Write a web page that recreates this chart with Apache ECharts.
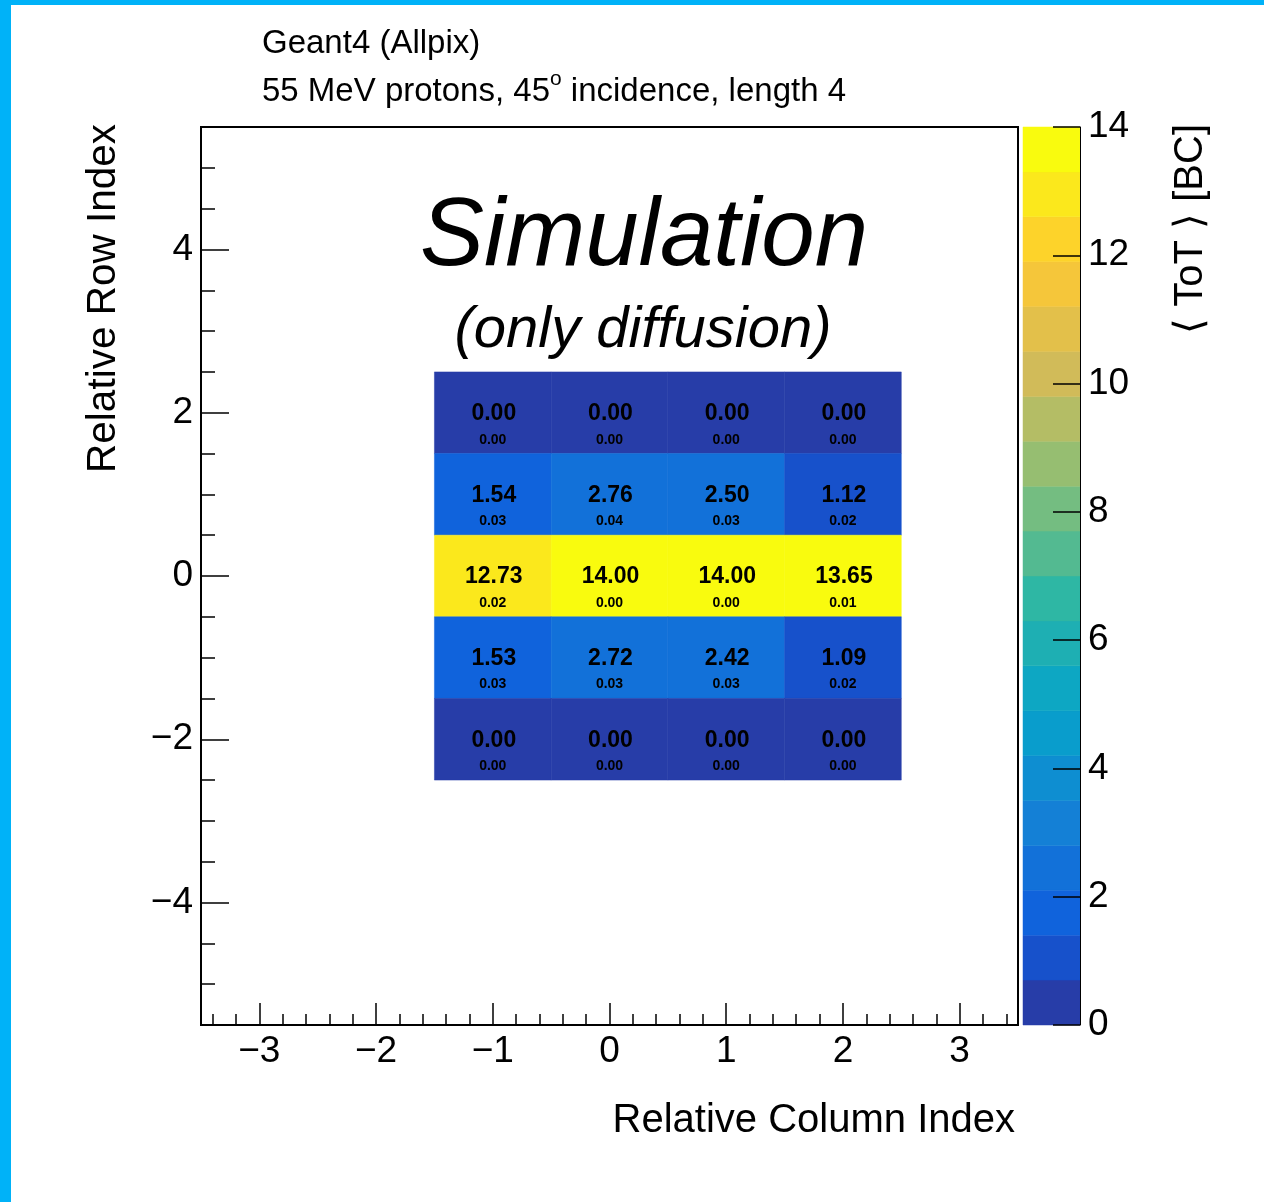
<!DOCTYPE html>
<html>
<head>
<meta charset="utf-8">
<script src="https://cdn.jsdelivr.net/npm/echarts@6/dist/echarts.min.js"></script>
<style>
    html, body { margin: 0; padding: 0; background: #fff; }
    #chart { position: absolute; left: 0; top: 0; width: 1264px; height: 1202px; }
    .edge { position: absolute; background: #00b2f8; }
</style>
</head>
<body>
<div id="chart"></div>
<div class="edge" style="left:0;top:0;width:11px;height:1202px"></div>
<div class="edge" style="left:0;top:0;width:1264px;height:5px"></div>
<script>
// pixel columns / rows relative to the seed pixel
var colIndex = [-1, 0, 1, 2];
var rowIndex = [2, 1, 0, -1, -2];

// mean ToT per pixel, one line per row (top row first)
var meanToT = [
    [0.00, 0.00, 0.00, 0.00],
    [1.54, 2.76, 2.50, 1.12],
    [12.73, 14.00, 14.00, 13.65],
    [1.53, 2.72, 2.42, 1.09],
    [0.00, 0.00, 0.00, 0.00]
];
// error on the mean
var errToT = [
    [0.00, 0.00, 0.00, 0.00],
    [0.03, 0.04, 0.03, 0.02],
    [0.02, 0.00, 0.00, 0.01],
    [0.03, 0.03, 0.03, 0.02],
    [0.00, 0.00, 0.00, 0.00]
];

// axis ticks
var xMajorTicks = [-3, -2, -1, 0, 1, 2, 3];
var xMinorTicks = [-3.4, -3.2, -2.8, -2.6, -2.4, -2.2, -1.8, -1.6, -1.4, -1.2, -0.8, -0.6, -0.4, -0.2,
                   0.2, 0.4, 0.6, 0.8, 1.2, 1.4, 1.6, 1.8, 2.2, 2.4, 2.6, 2.8, 3.2, 3.4];
var yMajorTicks = [-4, -2, 0, 2, 4];
var yMinorTicks = [-5, -4.5, -3.5, -3, -2.5, -1.5, -1, -0.5, 0.5, 1, 1.5, 2.5, 3, 3.5, 4.5, 5];
var zTicks = [0, 2, 4, 6, 8, 10, 12, 14];

// colz contours (20 levels) and the kBird colours that go with them
var contourLevels = [0, 0.7, 1.4, 2.1, 2.8, 3.5, 4.2, 4.9, 5.6, 6.3, 7.0,
                     7.7, 8.4, 9.1, 9.8, 10.5, 11.2, 11.9, 12.6, 13.3, 14];
var birdColors = ['#273da8', '#1751cb', '#1063dc', '#1271d9', '#1480d6', '#0e8ed1', '#099dcc',
                  '#0da7c3', '#1eafb3', '#2eb7a4', '#53ba91', '#74bd81', '#96be71', '#b4bd65',
                  '#d1bb59', '#e3c04a', '#f5c63a', '#fdd32a', '#fbe81c', '#f9fb0e'];

var FONT = '"Liberation Sans", Arial, Helvetica, sans-serif';

function colorFor(v) {
    for (var i = 0; i < contourLevels.length - 1; i++) {
        if (v < contourLevels[i + 1]) return birdColors[i];
    }
    return birdColors[birdColors.length - 1];
}

function minusSign(v) {
    return String(v).replace('-', '\u2212');
}

// heatmap cells
var cellData = [];
rowIndex.forEach(function(row, r) {
    colIndex.forEach(function(col, c) {
        cellData.push([col, row, meanToT[r][c], errToT[r][c]]);
    });
});

// colour bar bands
var bandData = [];
for (var b = 0; b < contourLevels.length - 1; b++) {
    bandData.push([contourLevels[b], contourLevels[b + 1], b]);
}

function renderCell(params, api) {
    var x = api.value(0), y = api.value(1), v = api.value(2), e = api.value(3);
    var p0 = api.coord([x - 0.5, y + 0.5]),
        p1 = api.coord([x + 0.5, y - 0.5]);
    var cx = (p0[0] + p1[0]) / 2, cy = (p0[1] + p1[1]) / 2;
    var color = colorFor(v);
    return {
        type: 'group',
        children: [{
            type: 'rect',
            shape: { x: p0[0], y: p0[1], width: p1[0] - p0[0], height: p1[1] - p0[1] },
            style: { fill: color, stroke: color, lineWidth: 0.5 }
        }, {
            type: 'text',
            x: cx + 1, y: cy + 1,
            style: { text: v.toFixed(2), font: 'bold 23px ' + FONT, fill: '#000', align: 'center', verticalAlign: 'middle' }
        }, {
            type: 'text',
            x: cx, y: cy + 27,
            style: { text: e.toFixed(2), font: 'bold 14px ' + FONT, fill: '#000', align: 'center', verticalAlign: 'middle' }
        }]
    };
}

function renderBand(params, api) {
    var p0 = api.coord([0, api.value(1)]),
        p1 = api.coord([1, api.value(0)]);
    var color = birdColors[api.value(2)];
    return {
        type: 'rect',
        shape: { x: p0[0], y: p0[1], width: p1[0] - p0[0], height: p1[1] - p0[1] },
        style: { fill: color, stroke: color, lineWidth: 0.5 }
    };
}

var tickLine = { color: '#000', width: 1.5 };
var noLine = { show: false, onZero: false };
var labelStyle = { fontSize: 37, color: '#000', fontFamily: FONT, formatter: minusSign };

var chart = echarts.init(document.getElementById('chart'));
chart.setOption({
    animation: false,
    backgroundColor: '#fff',
    grid: [
        { left: 201, top: 127, width: 817, height: 898, show: true, borderColor: '#000', borderWidth: 2,
          backgroundColor: 'transparent', outerBoundsMode: 'none' },
        { left: 1023, top: 127, width: 57, height: 898, outerBoundsMode: 'none' }
    ],
    xAxis: [
        { gridIndex: 0, type: 'value', min: -3.5, max: 3.5, position: 'bottom',
          axisLine: noLine, splitLine: { show: false },
          axisTick: { inside: true, length: 22, customValues: xMajorTicks, lineStyle: tickLine },
          axisLabel: Object.assign({ customValues: xMajorTicks, margin: 8 }, labelStyle) },
        { gridIndex: 0, type: 'value', min: -3.5, max: 3.5, position: 'bottom',
          axisLine: noLine, splitLine: { show: false },
          axisTick: { inside: true, length: 11, customValues: xMinorTicks, lineStyle: tickLine },
          axisLabel: { show: false } },
        { gridIndex: 1, type: 'value', min: 0, max: 1, show: false, axisLine: noLine }
    ],
    yAxis: [
        { gridIndex: 0, type: 'value', min: -5.5, max: 5.5, position: 'left',
          axisLine: noLine, splitLine: { show: false },
          axisTick: { inside: true, length: 28, customValues: yMajorTicks, lineStyle: tickLine },
          axisLabel: Object.assign({ customValues: yMajorTicks, margin: 8 }, labelStyle) },
        { gridIndex: 0, type: 'value', min: -5.5, max: 5.5, position: 'left',
          axisLine: noLine, splitLine: { show: false },
          axisTick: { inside: true, length: 14, customValues: yMinorTicks, lineStyle: tickLine },
          axisLabel: { show: false } },
        { gridIndex: 1, type: 'value', min: 0, max: 14, position: 'right', z: 5,
          axisLine: { show: true, onZero: false, lineStyle: { color: '#000', width: 1 } }, splitLine: { show: false },
          axisTick: { inside: true, length: 27, customValues: zTicks, lineStyle: tickLine },
          axisLabel: Object.assign({ customValues: zTicks, margin: 8 }, labelStyle) }
    ],
    series: [{
        type: 'custom',
        xAxisIndex: 0, yAxisIndex: 0,
        renderItem: renderCell,
        data: cellData,
        z: 2
    }, {
        type: 'custom',
        xAxisIndex: 2, yAxisIndex: 2,
        renderItem: renderBand,
        data: bandData,
        z: 1
    }],
    graphic: [
        { type: 'text', x: 262, y: 44,
          style: { text: 'Geant4 (Allpix)', font: '33px ' + FONT, fill: '#000', align: 'left', verticalAlign: 'middle' } },
        { type: 'text', x: 262, y: 92,
          style: { text: '{n|55 MeV protons, 45}{sup|o}{n| incidence, length 4}', fill: '#000',
                   align: 'left', verticalAlign: 'middle',
                   rich: { n: { fontSize: 33, fontFamily: FONT, lineHeight: 46, fill: '#000' },
                           sup: { fontSize: 21, fontFamily: FONT, lineHeight: 21, verticalAlign: 'top', fill: '#000' } } } },
        { type: 'text', x: 644, y: 238,
          style: { text: 'Simulation', font: 'italic 96px ' + FONT, fill: '#000', align: 'center', verticalAlign: 'middle' } },
        { type: 'text', x: 643, y: 331,
          style: { text: '(only diffusion)', font: 'italic 58px ' + FONT, fill: '#000', align: 'center', verticalAlign: 'middle' } },
        { type: 'text', x: 104, y: 124, rotation: Math.PI / 2,
          style: { text: 'Relative Row Index', font: '40.5px ' + FONT, fill: '#000', align: 'right', verticalAlign: 'middle' } },
        { type: 'text', x: 1015, y: 1121,
          style: { text: 'Relative Column Index', font: '40px ' + FONT, fill: '#000', align: 'right', verticalAlign: 'middle' } },
        { type: 'text', x: 1191, y: 124, rotation: Math.PI / 2,
          style: { text: '\u27e8 ToT \u27e9 [BC]', font: '40px ' + FONT, fill: '#000', align: 'right', verticalAlign: 'middle' } }
    ]
});
</script>
</body>
</html>
